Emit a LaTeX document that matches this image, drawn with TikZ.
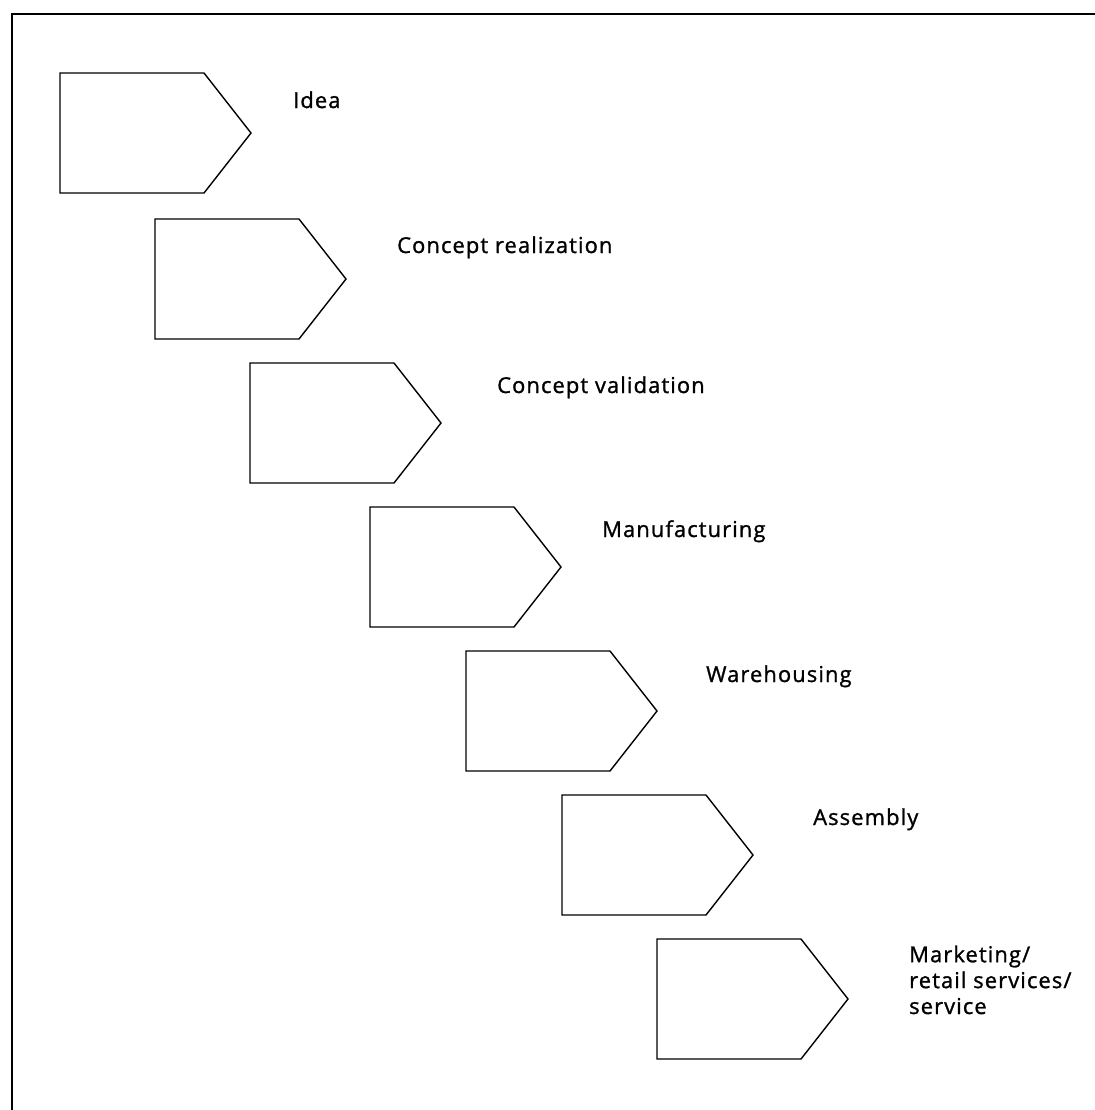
\documentclass[tikz,border=0pt]{standalone}
\usepackage{fontspec}
\setmainfont{Open Sans}[LetterSpace=5,FakeBold=1.2]
\begin{document}
\begin{tikzpicture}[x=1bp,y=-1bp,
  stage/.style={draw=black,line width=1.4bp,line join=miter},
  steplabel/.style={anchor=base west,inner sep=0pt,font=\fontsize{22}{26}\selectfont,align=left},
  frameline/.style={draw=black,line width=2.6bp}]
\useasboundingbox (0,0) rectangle (1095,1110);
% frame (top and left edges)
\draw[frameline] (12,1110) -- (12,14) -- (1095,14);
% pentagon arrow stages: left x, top y
\foreach \n/\x/\y in {1/60/73,2/155/219,3/250/363,4/370/507,5/466/651,6/562/795,7/657/939}{
  \draw[stage] (\x,\y) coordinate (s\n) -- ++(144,0) -- ++(47,60) -- ++(-47,60) -- ++(-144,0) -- cycle;
}
\node[steplabel] (t1) at (293,108) {Idea};
\node[steplabel] (t2) at (397,253) {Concept realization};
\node[steplabel] (t3) at (497,393) {Concept validation};
\node[steplabel] (t4) at (602,537) {Manufacturing};
\node[steplabel] (t5) at (706,682) {Warehousing};
\node[steplabel] (t6) at (813,825) {Assembly};
% multi-line label: its base anchor sits on the last line
\node[steplabel] (t7) at (909,1014) {Marketing/\\retail services/\\service};
\end{tikzpicture}
\end{document}
